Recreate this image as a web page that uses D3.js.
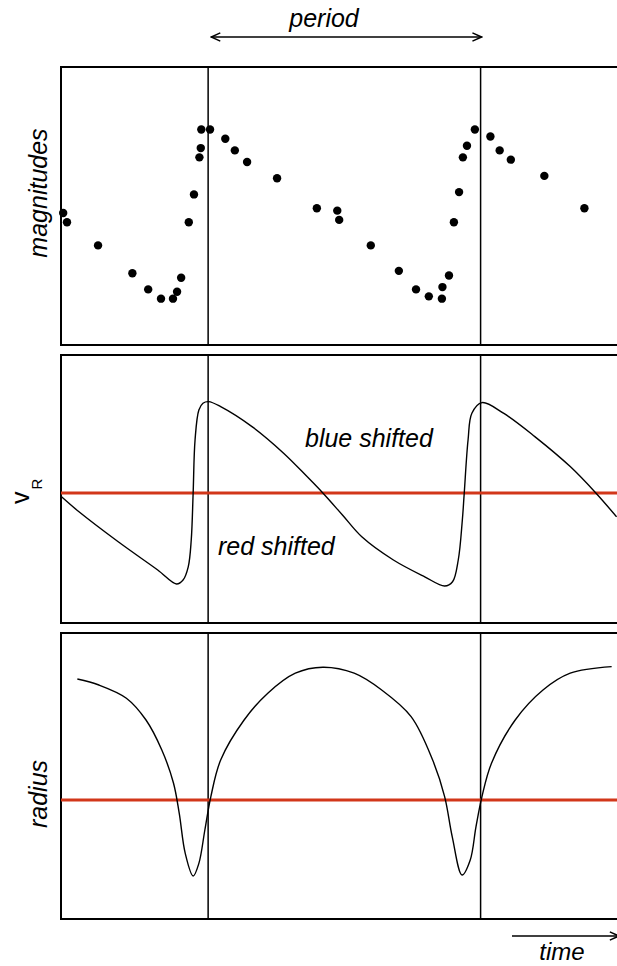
<!DOCTYPE html>
<html>
<head>
<meta charset="utf-8">
<script src="https://cdn.jsdelivr.net/npm/d3@7"></script>
<style>
  html, body { margin: 0; background: #fff; overflow: hidden; }
  svg { display: block; }
  text { font-family: "Liberation Sans", Arial, sans-serif; fill: #000; }
</style>
</head>
<body>
<svg id="chart" width="617" height="966"></svg>
<script>
// time in units of the period (0 and 1 = maximum light)
const magTime = [-0.532, -0.518, -0.404, -0.278, -0.220, -0.173, -0.129, -0.114, -0.099, -0.071,
  -0.052, -0.032, -0.027, -0.025, 0.007, 0.063, 0.098, 0.143, 0.253, 0.399,
  0.474, 0.481, 0.597, 0.700, 0.763, 0.810, 0.858, 0.860, 0.884, 0.902,
  0.921, 0.935, 0.950, 0.979, 1.036, 1.070, 1.111, 1.234, 1.381];
const magValues = [4.13, 4.17, 4.27, 4.39, 4.46, 4.50, 4.50, 4.47, 4.41, 4.17,
  4.05, 3.89, 3.85, 3.77, 3.77, 3.81, 3.86, 3.91, 3.98, 4.11,
  4.12, 4.16, 4.27, 4.38, 4.46, 4.49, 4.50, 4.45, 4.40, 4.17,
  4.04, 3.89, 3.84, 3.77, 3.80, 3.86, 3.90, 3.97, 4.11];

const velTime = [-0.538, -0.474, -0.330, -0.185, -0.116, -0.092, -0.073, -0.062, -0.055, -0.048,
  -0.034, -0.019, 0.002, 0.046, 0.161, 0.277, 0.363, 0.421, 0.493, 0.564,
  0.680, 0.795, 0.868, 0.897, 0.918, 0.933, 0.940, 0.954, 0.968, 1.005,
  1.084, 1.199, 1.329, 1.423, 1.499];
const velValues = [-1.9, -9.4, -24.4, -38.5, -45.5, -43.5, -36.9, -23.5, 0, 26.5,
  41.5, 44.9, 45.7, 43.2, 33.2, 19.9, 8.2, 0, -11, -21.9,
  -33.5, -41.9, -46.5, -44.4, -33.5, -13.5, 0, 26.5, 39.9, 45.2,
  39.9, 28.2, 13.2, 0, -11.9];

const radTime = [-0.480, -0.401, -0.300, -0.228, -0.170, -0.127, -0.106, -0.084, -0.055, -0.034,
  -0.012, 0.010, 0.046, 0.132, 0.219, 0.320, 0.421, 0.536, 0.637, 0.745,
  0.824, 0.868, 0.896, 0.932, 0.962, 0.983, 1.005, 1.040, 1.127, 1.229,
  1.329, 1.481];
const radValues = [60.5, 57.5, 50.9, 40, 25, 8.4, -6.7, -26.7, -38, -31.7,
  -15, 1.7, 20, 40, 53.4, 63.4, 66.4, 63.4, 55, 41.7,
  20, 1.7, -18.4, -37.5, -30, -13.4, 1.7, 18.4, 40, 55,
  63.4, 66.7];

const periodMarks = [0, 1];
const labels = { mag: "magnitudes", vel: "v", velSub: "R", rad: "radius" };

const svg = d3.select('#chart');
const red = '#d2371a';

// right edge of the panels runs off the page
const x = d3.scaleLinear().domain([-0.54, 1.53]).range([61, 625]);
const rightEdge = 700;

// panel boxes (top, bottom in px)
const panels = [
  {top: 67, bottom: 345},
  {top: 355, bottom: 623},
  {top: 633, bottom: 919}
];

const yMag = d3.scaleLinear().domain([3.5, 4.7]).range([panels[0].top, panels[0].bottom]);
const yVel = d3.scaleLinear().domain([69, -65]).range([panels[1].top, panels[1].bottom]);
const yRad = d3.scaleLinear().domain([83.5, -59.5]).range([panels[2].top, panels[2].bottom]);

// arrow head
const defs = svg.append('defs');
defs.append('marker')
  .attr('id', 'arrow')
  .attr('viewBox', '0 0 12 12')
  .attr('refX', 11).attr('refY', 6)
  .attr('markerWidth', 11).attr('markerHeight', 11)
  .attr('markerUnits', 'userSpaceOnUse')
  .attr('orient', 'auto-start-reverse')
  .append('path')
  .attr('d', 'M1,1.5 L11,6 L1,10.5')
  .attr('fill', 'none')
  .attr('stroke', '#000')
  .attr('stroke-width', 1.6);

// panel frames + period marks
panels.forEach(p => {
  svg.append('rect')
    .attr('x', x.range()[0])
    .attr('y', p.top)
    .attr('width', rightEdge - x.range()[0])
    .attr('height', p.bottom - p.top)
    .attr('fill', 'none')
    .attr('stroke', '#000')
    .attr('stroke-width', 2);

  svg.selectAll(null)
    .data(periodMarks)
    .enter().append('line')
    .attr('x1', d => x(d)).attr('x2', d => x(d))
    .attr('y1', p.top).attr('y2', p.bottom)
    .attr('stroke', '#000')
    .attr('stroke-width', 1.5);
});

// zero lines (mean velocity / mean radius)
[[yVel, 0], [yRad, 0]].forEach(([y, v]) => {
  svg.append('line')
    .attr('x1', x.range()[0]).attr('x2', rightEdge)
    .attr('y1', y(v)).attr('y2', y(v))
    .attr('stroke', red)
    .attr('stroke-width', 3);
});

// light curve dots
svg.selectAll('.dot')
  .data(magTime.map((t, i) => [t, magValues[i]]))
  .enter().append('circle')
  .attr('class', 'dot')
  .attr('cx', d => x(d[0]))
  .attr('cy', d => yMag(d[1]))
  .attr('r', 4.2)
  .attr('fill', '#000');

// radial velocity curve
const velLine = d3.line()
  .x(d => x(d[0]))
  .y(d => yVel(d[1]))
  .curve(d3.curveCatmullRom.alpha(0.5));
svg.append('path')
  .datum(velTime.map((t, i) => [t, velValues[i]]))
  .attr('d', velLine)
  .attr('fill', 'none')
  .attr('stroke', '#000')
  .attr('stroke-width', 1.4);

// radius curve
const radLine = d3.line()
  .x(d => x(d[0]))
  .y(d => yRad(d[1]))
  .curve(d3.curveCatmullRom.alpha(0.5));
svg.append('path')
  .datum(radTime.map((t, i) => [t, radValues[i]]))
  .attr('d', radLine)
  .attr('fill', 'none')
  .attr('stroke', '#000')
  .attr('stroke-width', 1.4);

// period arrow
svg.append('line')
  .attr('x1', x(0) + 3).attr('x2', x(1) + 1)
  .attr('y1', 37).attr('y2', 37)
  .attr('stroke', '#000')
  .attr('stroke-width', 1.6)
  .attr('marker-start', 'url(#arrow)')
  .attr('marker-end', 'url(#arrow)');

svg.append('text')
  .attr('x', 324).attr('y', 27)
  .attr('text-anchor', 'middle')
  .style('font-size', '25px')
  .style('font-style', 'italic')
  .text('period');

// time arrow
svg.append('line')
  .attr('x1', 512).attr('x2', 619)
  .attr('y1', 936).attr('y2', 936)
  .attr('stroke', '#000')
  .attr('stroke-width', 1.6)
  .attr('marker-end', 'url(#arrow)');

svg.append('text')
  .attr('x', 562).attr('y', 960)
  .attr('text-anchor', 'middle')
  .style('font-size', '24px')
  .style('font-style', 'italic')
  .text('time');

// annotations in velocity panel
svg.append('text')
  .attr('x', 305).attr('y', 447)
  .style('font-size', '25px')
  .style('font-style', 'italic')
  .text('blue shifted');

svg.append('text')
  .attr('x', 218).attr('y', 555)
  .style('font-size', '25px')
  .style('font-style', 'italic')
  .text('red shifted');

// y labels
svg.append('text')
  .attr('transform', 'translate(47,193) rotate(-90)')
  .attr('text-anchor', 'middle')
  .style('font-size', '25px')
  .style('font-style', 'italic')
  .text(labels.mag);

const vr = svg.append('text')
  .attr('transform', 'translate(29,504) rotate(-90)')
  .style('font-size', '25px');
vr.append('tspan').text(labels.vel);
vr.append('tspan')
  .attr('dx', 2).attr('dy', 13)
  .style('font-size', '15px')
  .text(labels.velSub);

svg.append('text')
  .attr('transform', 'translate(47,794) rotate(-90)')
  .attr('text-anchor', 'middle')
  .style('font-size', '25px')
  .style('font-style', 'italic')
  .text(labels.rad);
</script>
</body>
</html>
